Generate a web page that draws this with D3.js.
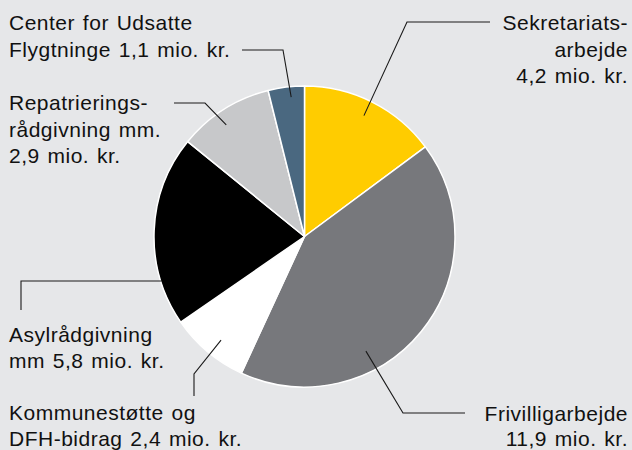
<!DOCTYPE html>
<html>
<head>
<meta charset="utf-8">
<script src="https://cdn.jsdelivr.net/npm/d3@7"></script>
<style>
  html, body { margin: 0; padding: 0; background: #e6e7e9; }
  svg { display: block; }
  text { font-family: "Liberation Sans", Arial, sans-serif; font-size: 21px; letter-spacing: 0.5px; word-spacing: 1.5px; fill: #111; }
</style>
</head>
<body>
<script>
var w = 632;
var h = 450;

// data (mio. kr.)
var categories = ["Sekretariatsarbejde", "Frivilligarbejde", "Kommunestøtte og DFH-bidrag",
                  "Asylrådgivning", "Repatrieringsrådgivning", "Center for Udsatte Flygtninge"];
var values = [4.2, 11.9, 2.4, 5.8, 2.9, 1.1];
var colors = ["#ffcc00", "#77787c", "#ffffff", "#000000", "#c7c8ca", "#4a6880"];

// label lines, one array per slice
var labelLines = [
    ["Sekretariats-", "arbejde", "4,2 mio. kr."],
    ["Frivilligarbejde", "11,9 mio. kr."],
    ["Kommunestøtte og", "DFH-bidrag 2,4 mio. kr."],
    ["Asylrådgivning", "mm 5,8 mio. kr."],
    ["Repatrierings-", "rådgivning mm.", "2,9 mio. kr."],
    ["Center for Udsatte", "Flygtninge 1,1 mio. kr."]
];

var cx = 304.5, cy = 236.5, r = 150.5;

var svg = d3.select("body")
    .append("svg")
    .attr("width", w)
    .attr("height", h);

var pie = d3.pie().sort(null).value(function(d){ return d; });
var arc = d3.arc().innerRadius(0).outerRadius(r);
var arcs = pie(values);

var g = svg.append("g").attr("transform", "translate(" + cx + "," + cy + ")");

g.selectAll("path")
    .data(arcs)
    .enter()
    .append("path")
    .attr("d", arc)
    .attr("fill", function(d, i){ return colors[i]; })
    .attr("stroke", "#ffffff")
    .attr("stroke-width", 1.5)
    .attr("stroke-linejoin", "round");

/*
    Leader lines: start inside the slice (fraction of the slice angle and of
    the radius), then a bend point and an end point, in page coordinates.
*/
var leaders = [
    { af: 0.49, rf: 0.895, bend: [407, 22], end: [490, 22] },
    { af: 0.65, rf: 0.864, bend: [403, 413], end: [465, 413] },
    { af: 0.46, rf: 0.884, bend: [194, 374], end: [194, 396] },
    { af: 0.15, rf: 0.995, bend: [21, 281], end: [21, 310] },
    { af: 0.43, rf: 0.906, bend: [205, 103], end: [174, 103] },
    { af: 0.61, rf: 0.93, bend: [283, 50], end: [242, 50] }
];

arcs.forEach(function(d, i){
    var L = leaders[i];
    var a = d.startAngle + (d.endAngle - d.startAngle) * L.af;
    var rr = r * L.rf;
    var sx = cx + Math.sin(a) * rr;
    var sy = cy - Math.cos(a) * rr;
    if (i == 3) {
        // horizontal leader: start on the bend's row, just inside the rim
        sy = L.bend[1];
        sx = cx - Math.sqrt(rr * rr - (sy - cy) * (sy - cy));
    }
    svg.append("polyline")
        .attr("points", [[sx, sy], L.bend, L.end].map(function(p){ return p.join(","); }).join(" "))
        .attr("fill", "none")
        .attr("stroke", "#1a1a1a")
        .attr("stroke-width", 1.1);
});

// label placement: anchor x, first baseline, line height, anchor
var labelPos = [
    { x: 628, y: 30, lh: 26.5, anchor: "end" },
    { x: 628, y: 421, lh: 25, anchor: "end" },
    { x: 9, y: 420, lh: 26, anchor: "start" },
    { x: 9, y: 342, lh: 26, anchor: "start" },
    { x: 9, y: 110, lh: 26.5, anchor: "start" },
    { x: 9, y: 29.5, lh: 27, anchor: "start" }
];

labelLines.forEach(function(lines, i){
    var p = labelPos[i];
    var t = svg.append("text")
        .attr("text-anchor", p.anchor);
    t.selectAll("tspan")
        .data(lines)
        .enter()
        .append("tspan")
        .attr("x", p.x)
        .attr("y", function(d, j){ return p.y + j * p.lh; })
        .text(function(d){ return d; });
});
</script>
</body>
</html>
